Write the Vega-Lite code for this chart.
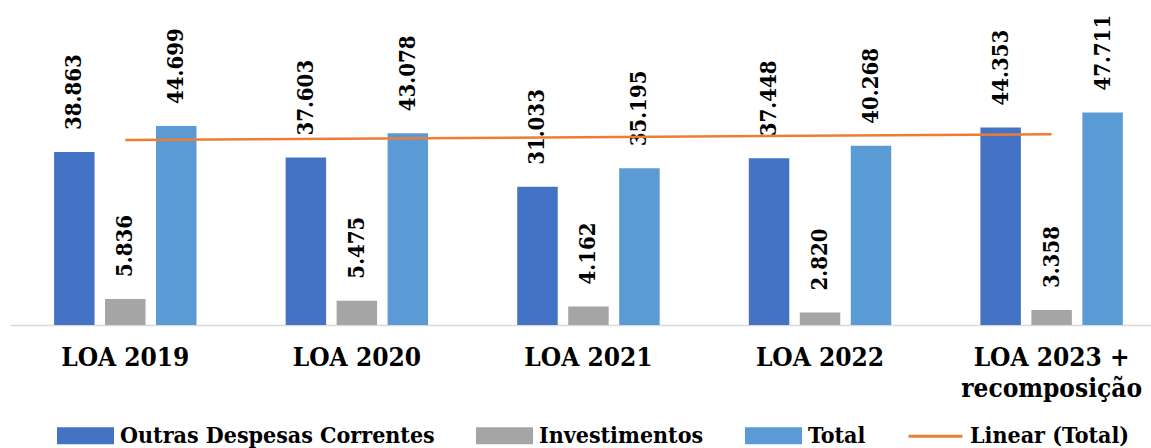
{
  "$schema": "https://vega.github.io/schema/vega-lite/v6.json",
  "description": "LOA 2019-2023: Outras Despesas Correntes, Investimentos e Total, com linha de tendência",
  "autosize": {"type": "none"},
  "padding": {"left": 10, "top": 0, "right": 0, "bottom": 123},
  "width": 1141,
  "height": 325,
  "datasets": {
    "barras": [
      {"ano": "LOA 2019", "serie": "Outras Despesas Correntes", "valor": 38863},
      {"ano": "LOA 2019", "serie": "Investimentos", "valor": 5836},
      {"ano": "LOA 2019", "serie": "Total", "valor": 44699},
      {"ano": "LOA 2020", "serie": "Outras Despesas Correntes", "valor": 37603},
      {"ano": "LOA 2020", "serie": "Investimentos", "valor": 5475},
      {"ano": "LOA 2020", "serie": "Total", "valor": 43078},
      {"ano": "LOA 2021", "serie": "Outras Despesas Correntes", "valor": 31033},
      {"ano": "LOA 2021", "serie": "Investimentos", "valor": 4162},
      {"ano": "LOA 2021", "serie": "Total", "valor": 35195},
      {"ano": "LOA 2022", "serie": "Outras Despesas Correntes", "valor": 37448},
      {"ano": "LOA 2022", "serie": "Investimentos", "valor": 2820},
      {"ano": "LOA 2022", "serie": "Total", "valor": 40268},
      {"ano": "LOA 2023 + recomposição", "serie": "Outras Despesas Correntes", "valor": 44353},
      {"ano": "LOA 2023 + recomposição", "serie": "Investimentos", "valor": 3358},
      {"ano": "LOA 2023 + recomposição", "serie": "Total", "valor": 47711}
    ],
    "tendencia": [
      {"ano": "LOA 2019", "serie": "Linear (Total)", "valor": 41550},
      {"ano": "LOA 2023 + recomposição", "serie": "Linear (Total)", "valor": 42830}
    ]
  },
  "encoding": {
    "x": {
      "field": "ano",
      "type": "nominal",
      "sort": null,
      "scale": {
        "domain": ["LOA 2019", "LOA 2020", "LOA 2021", "LOA 2022", "LOA 2023 + recomposição"],
        "paddingInner": 0.385,
        "paddingOuter": 0.156,
        "align": 0.61
      }
    },
    "y": {"field": "valor", "type": "quantitative", "scale": {"domain": [0, 73000]}}
  },
  "layer": [
    {
      "data": {"name": "barras"},
      "encoding": {
        "xOffset": {
          "field": "serie",
          "type": "nominal",
          "scale": {
            "domain": ["Outras Despesas Correntes", "Investimentos", "Total"],
            "paddingInner": 0.206,
            "paddingOuter": 0
          }
        }
      },
      "layer": [
        {
          "mark": {"type": "bar"},
          "encoding": {
            "color": {
              "field": "serie",
              "type": "nominal",
              "scale": {
                "domain": ["Outras Despesas Correntes", "Investimentos", "Total", "Linear (Total)"],
                "range": ["#4472C4", "#A5A5A5", "#5B9BD5", "#ED7D31"]
              },
              "legend": {
                "title": null,
                "orient": "none",
                "legendX": 47,
                "legendY": 407,
                "direction": "horizontal",
                "symbolSize": 2916,
                "labelOffset": 6,
                "columnPadding": 36,
                "encode": {
                  "symbols": {
                    "update": {
                      "shape": {"signal": "datum.label === 'Linear (Total)' ? 'stroke' : 'M-1,-0.26H1V0.26H-1Z'"},
                      "fill": {"signal": "datum.label === 'Linear (Total)' ? 'transparent' : scale('color', datum.value)"},
                      "stroke": {"signal": "datum.label === 'Linear (Total)' ? '#ED7D31' : 'transparent'"},
                      "strokeWidth": {"value": 3},
                      "opacity": {"value": 1}
                    }
                  }
                }
              }
            }
          }
        },
        {
          "mark": {"type": "text", "angle": -90, "align": "left", "baseline": "middle", "dx": 22},
          "encoding": {
            "text": {"field": "valor", "type": "quantitative", "format": ",d"},
            "color": {"value": "#000000"}
          }
        }
      ]
    },
    {
      "data": {"name": "tendencia"},
      "mark": {"type": "line", "strokeWidth": 2.5},
      "encoding": {
        "color": {"field": "serie", "type": "nominal"}
      }
    }
  ],
  "resolve": {"scale": {"color": "shared"}},
  "config": {
    "locale": {"number": {"decimal": ",", "thousands": ".", "grouping": [3], "currency": ["R$", ""]}},
    "view": {"stroke": null},
    "axisX": {
      "title": null,
      "labelAngle": 0,
      "ticks": false,
      "labelFont": "DejaVu Serif Condensed",
      "labelFontSize": 26,
      "labelFontWeight": "bold",
      "labelColor": "#000000",
      "labelPadding": 19,
      "labelLineHeight": 31,
      "labelLimit": 0,
      "labelOverlap": false,
      "domainColor": "#D9D9D9",
      "domainWidth": 1.5,
      "labelExpr": "datum.value == 'LOA 2023 + recomposição' ? ['LOA 2023 +', 'recomposição'] : datum.label"
    },
    "axisY": {"disable": true},
    "legend": {
      "labelFont": "DejaVu Serif Condensed",
      "labelFontSize": 23,
      "labelFontWeight": "bold",
      "labelColor": "#000000",
      "labelLimit": 0
    },
    "text": {"font": "DejaVu Serif Condensed", "fontSize": 22, "fontWeight": "bold"}
  }
}
